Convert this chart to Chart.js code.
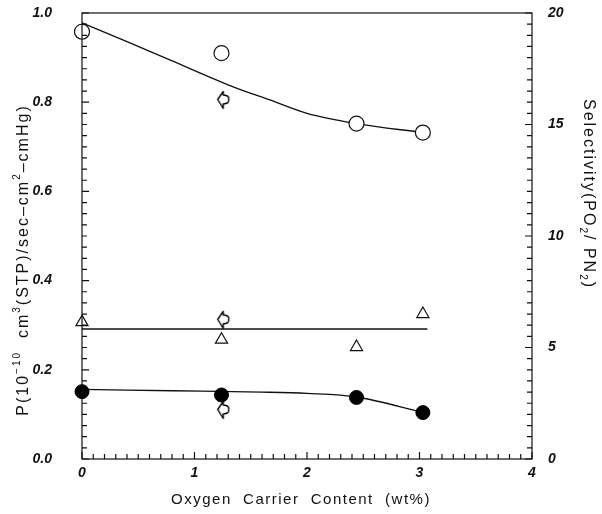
<!DOCTYPE html>
<html>
<head>
<meta charset="utf-8">
<script src="https://cdn.jsdelivr.net/npm/chart.js@4"></script>
<style>
  body { margin: 0; background: #fff; }
  #wrap { width: 602px; height: 514px; position: relative; }
</style>
</head>
<body>
<div id="wrap"><canvas id="chart"></canvas></div>
<script>
// measured points (x = oxygen carrier content, wt%)
const xContent = [0, 1.24, 2.44, 3.03];
const o2Perm = [0.958, 0.91, 0.752, 0.732];
const n2Perm = [0.151, 0.1435, 0.138, 0.104];
const selectivity = [6.14, 5.35, 5.02, 6.5];

// fitted curves
const o2FitX = [0, 0.4, 0.78, 1.35, 1.67, 2.0, 2.44, 3.03];
const o2FitY = [0.978, 0.936, 0.895, 0.834, 0.805, 0.775, 0.752, 0.732];
const n2FitX = [0, 0.8, 1.6, 2.0, 2.44, 3.04];
const n2FitY = [0.156, 0.153, 0.150, 0.147, 0.139, 0.104];
const selFitX = [0, 3.07];
const selFitY = [5.83, 5.83];

// the arrow-shaped reference points
const refX = [1.26, 1.26];
const refPerm = [0.805, 0.11];
const refSelX = [1.26];
const refSel = [6.24];

// tick labels
const xTicks = [0, 1, 2, 3, 4];
const leftTicks = [0, 0.2, 0.4, 0.6, 0.8, 1.0];
const rightTicks = [0, 5, 10, 15, 20];

const pts = (xs, ys) => xs.map((x, i) => ({ x: x, y: ys[i] }));

// hollow arrow marker
function arrowMarker() {
    const c = document.createElement('canvas');
    c.width = 15; c.height = 20;
    const g = c.getContext('2d');
    g.strokeStyle = '#000';
    g.fillStyle = '#fff';
    g.lineWidth = 1.4;
    g.lineJoin = 'round';
    g.beginPath();
    g.moveTo(7, 1.5);
    g.lineTo(1.5, 9.5);
    g.lineTo(7, 18.5);
    g.lineTo(7, 14);
    g.quadraticCurveTo(13.5, 13.5, 12.5, 9.5);
    g.quadraticCurveTo(13.5, 5.5, 7, 5);
    g.closePath();
    g.fill();
    g.stroke();
    return c;
}
const arrow = arrowMarker();

function drawRich(ctx, parts, cx, cy, rot, size, spacing) {
    const fam = '"Liberation Sans", Arial, sans-serif';
    const fontFor = p => (p.sup || p.sub ? Math.round(size * 0.62) : size) + 'px ' + fam;
    ctx.save();
    ctx.letterSpacing = spacing + 'px';
    let w = 0;
    parts.forEach(p => { ctx.font = fontFor(p); p.w = ctx.measureText(p.t).width; w += p.w; });
    ctx.translate(cx, cy);
    ctx.rotate(rot);
    ctx.fillStyle = '#111';
    ctx.textBaseline = 'middle';
    ctx.textAlign = 'left';
    let x = -w / 2;
    parts.forEach(p => {
        ctx.font = fontFor(p);
        const dy = p.sup ? -size * 0.42 : (p.sub ? size * 0.3 : 0);
        ctx.fillText(p.t, x, dy);
        x += p.w;
    });
    ctx.restore();
}

const frameAndTicks = {
    id: 'frameAndTicks',
    afterDraw(chart) {
        const { ctx, chartArea: a, scales } = chart;
        ctx.save();
        ctx.strokeStyle = '#111';
        ctx.lineWidth = 1.2;
        ctx.strokeRect(a.left, a.top, a.right - a.left, a.bottom - a.top);
        ctx.beginPath();
        for (let i = 0; i <= 40; i++) {
            const y = scales.y.getPixelForValue(i * 0.025);
            const len = i % 8 === 0 ? 7 : 5;
            ctx.moveTo(a.left, y); ctx.lineTo(a.left + len, y);
        }
        for (let i = 0; i <= 40; i++) {
            const y = scales.y2.getPixelForValue(i * 0.5);
            const len = i % 10 === 0 ? 7 : 5;
            ctx.moveTo(a.right, y); ctx.lineTo(a.right - len, y);
        }
        for (let i = 0; i <= 40; i++) {
            const x = scales.x.getPixelForValue(i * 0.1);
            const len = i % 10 === 0 ? 7 : 5;
            ctx.moveTo(x, a.bottom); ctx.lineTo(x, a.bottom - len);
        }
        ctx.stroke();
        ctx.restore();

        // axis titles
        drawRich(ctx, [{ t: 'Oxygen  Carrier  Content  (wt%)' }],
            (a.left + a.right) / 2 - 6, 500, 0, 15, 1.5);
        drawRich(ctx, [
            { t: 'P(10' }, { t: '−10', sup: true }, { t: '  cm' }, { t: '3', sup: true },
            { t: '(STP)/sec–cm' }, { t: '2', sup: true }, { t: '–cmHg)' }
        ], 24, 260, -Math.PI / 2, 16, 2);
        drawRich(ctx, [
            { t: 'Selectivity(PO' }, { t: '2', sub: true }, { t: '/ PN' }, { t: '2', sub: true }, { t: ')' }
        ], 588, 194, Math.PI / 2, 16, 2);
    }
};

const tickFont = { family: '"Liberation Sans", Arial, sans-serif', size: 14, style: 'italic', weight: 'bold' };

// keep the label gap from pushing the plot area down
function fixVertical(width) {
    return s => { s.width = width; s.paddingTop = 0; s.paddingBottom = 0; };
}

new Chart(document.getElementById('chart'), {
    type: 'scatter',
    data: {
        datasets: [
            {
                data: pts(o2FitX, o2FitY), showLine: true, pointRadius: 0,
                borderColor: '#111', borderWidth: 1.3, cubicInterpolationMode: 'monotone',
                yAxisID: 'y', order: 3
            },
            {
                data: pts(n2FitX, n2FitY), showLine: true, pointRadius: 0,
                borderColor: '#111', borderWidth: 1.3, cubicInterpolationMode: 'monotone',
                yAxisID: 'y', order: 3
            },
            {
                data: pts(selFitX, selFitY), showLine: true, pointRadius: 0,
                borderColor: '#111', borderWidth: 1.3, yAxisID: 'y2', order: 3
            },
            {
                data: pts(xContent, o2Perm), pointStyle: 'circle', pointRadius: 7.5,
                pointBackgroundColor: '#fff', pointBorderColor: '#111', pointBorderWidth: 1.2,
                yAxisID: 'y', order: 1
            },
            {
                data: pts(xContent, n2Perm), pointStyle: 'circle', pointRadius: 7,
                pointBackgroundColor: '#000', pointBorderColor: '#000', pointBorderWidth: 1,
                yAxisID: 'y', order: 1
            },
            {
                data: pts(xContent, selectivity), pointStyle: 'triangle', pointRadius: 7,
                pointBackgroundColor: '#fff', pointBorderColor: '#111', pointBorderWidth: 1.2,
                yAxisID: 'y2', order: 1
            },
            {
                data: pts(refX, refPerm), pointStyle: arrow, yAxisID: 'y', order: 1
            },
            {
                data: pts(refSelX, refSel), pointStyle: arrow, yAxisID: 'y2', order: 1
            }
        ]
    },
    options: {
        responsive: true,
        maintainAspectRatio: false,
        animation: false,
        clip: false,
        layout: { autoPadding: false, padding: { top: 13, left: 0, right: 0, bottom: 0 } },
        plugins: { legend: { display: false }, tooltip: { enabled: false } },
        scales: {
            x: {
                type: 'linear', min: 0, max: 4,
                afterFit: s => { s.height = 55; },
                afterBuildTicks: s => { s.ticks = xTicks.map(v => ({ value: v })); },
                grid: { display: false, drawTicks: false },
                border: { display: false },
                ticks: { color: '#111', font: tickFont, padding: 6, autoSkip: false, maxRotation: 0,
                    callback: v => String(v) }
            },
            y: {
                type: 'linear', position: 'left', min: 0, max: 1,
                afterFit: fixVertical(82),
                afterBuildTicks: s => { s.ticks = leftTicks.map(v => ({ value: v })); },
                grid: { display: false, drawTicks: false },
                border: { display: false },
                ticks: { color: '#111', font: tickFont, padding: 30, autoSkip: false,
                    callback: v => v.toFixed(1) }
            },
            y2: {
                type: 'linear', position: 'right', min: 0, max: 20,
                afterFit: fixVertical(70),
                afterBuildTicks: s => { s.ticks = rightTicks.map(v => ({ value: v })); },
                grid: { display: false, drawTicks: false },
                border: { display: false },
                ticks: { color: '#111', font: tickFont, padding: 16, autoSkip: false,
                    callback: v => String(v) }
            }
        }
    },
    plugins: [frameAndTicks]
});
</script>
</body>
</html>
